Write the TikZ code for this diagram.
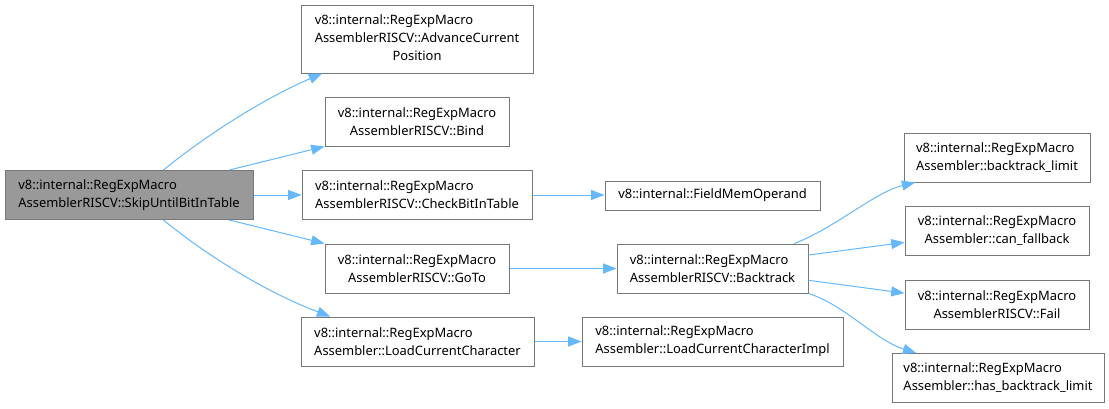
\documentclass[tikz,border=0pt]{standalone}
\usepackage{fontspec}
\setmainfont{Noto Sans}
\usetikzlibrary{arrows.meta}
\definecolor{edgeBlue}{RGB}{99,184,255}
\definecolor{boxGray}{RGB}{120,120,120}
\definecolor{rootGray}{RGB}{153,153,153}

\begin{document}
\begin{tikzpicture}[x=0.75pt, y=-0.75pt,
    fn/.style={draw=boxGray, line width=0.75pt, fill=white, inner sep=0pt,
      font=\fontsize{9.7}{13.5}\selectfont, minimum height=36.75pt},
    call/.style={edgeBlue, line width=0.75pt, -{Triangle[length=10pt,width=7.5pt]}}]
    \useasboundingbox (0,0) rectangle (1109,408);

    % caller
    \node[fn, fill=rootGray, minimum width=186pt, align=left] (skip) at (129,195)
      {v8::internal::RegExpMacro\\AssemblerRISCV::SkipUntilBitInTable};

    % first level
    \node[fn, minimum width=174pt, minimum height=51pt] (adv) at (417,39)
      {\begin{tabular}{@{}l@{}}v8::internal::RegExpMacro\\AssemblerRISCV::AdvanceCurrent\\\multicolumn{1}{@{}c@{}}{Position}\end{tabular}};
    \node[fn, minimum width=138pt, align=center] (bind) at (417,121.5)
      {v8::internal::RegExpMacro\\AssemblerRISCV::Bind};
    \node[fn, minimum width=172.5pt, align=left] (check) at (417,195)
      {v8::internal::RegExpMacro\\AssemblerRISCV::CheckBitInTable};
    \node[fn, minimum width=138pt, align=center] (goto) at (417,268.5)
      {v8::internal::RegExpMacro\\AssemblerRISCV::GoTo};
    \node[fn, minimum width=174.75pt, align=left] (loadcur) at (417.5,341.5)
      {v8::internal::RegExpMacro\\Assembler::LoadCurrentCharacter};

    % second level
    \node[fn, minimum width=161.25pt, minimum height=21.75pt] (fieldmem) at (712.5,195.5)
      {v8::internal::FieldMemOperand};
    \node[fn, minimum width=143.25pt, align=left] (backtrack) at (712.5,268.5)
      {v8::internal::RegExpMacro\\AssemblerRISCV::Backtrack};
    \node[fn, minimum width=195.75pt, align=left] (loadimpl) at (712.5,341.5)
      {v8::internal::RegExpMacro\\Assembler::LoadCurrentCharacterImpl};

    % third level
    \node[fn, minimum width=139.5pt, align=left] (btlimit) at (997,157.5)
      {v8::internal::RegExpMacro\\Assembler::backtrack\_limit};
    \node[fn, minimum width=138pt, align=center] (fallback) at (997,231)
      {v8::internal::RegExpMacro\\Assembler::can\_fallback};
    \node[fn, minimum width=138pt, align=center] (fail) at (997,304.5)
      {v8::internal::RegExpMacro\\AssemblerRISCV::Fail};
    \node[fn, minimum width=159pt, align=left] (hasbt) at (998,378)
      {v8::internal::RegExpMacro\\Assembler::has\_backtrack\_limit};

    % calls
    \draw[call] (skip.36) .. controls (200,140) and (260,100) .. (adv.200);
    \draw[call] (skip.14) -- (bind.south west);
    \draw[call] (skip.east) -- (check.west);
    \draw[call] (skip.-14) -- (goto.north west);
    \draw[call] (skip.-36) .. controls (200,250) and (260,290) .. (loadcur.164);
    \draw[call] (check.east) -- (check.east -| fieldmem.west);
    \draw[call] (goto.east) -- (backtrack.west);
    \draw[call] (loadcur.east) -- (loadimpl.west);
    \draw[call] (backtrack.17.5) .. controls (835,228) and (875,192) .. (btlimit.197.6);
    \draw[call] (backtrack.8) -- (fallback.187.5);
    \draw[call] (backtrack.-7) -- (fail.173);
    \draw[call] (backtrack.south east) .. controls (845,305) and (875,340) .. (hasbt.163.2);
  \end{tikzpicture}
\end{document}
